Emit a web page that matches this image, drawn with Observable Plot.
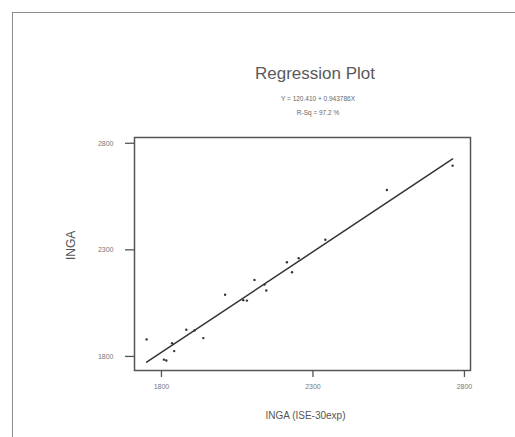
<!DOCTYPE html>
<html><head><meta charset="utf-8">
<script src="https://cdn.jsdelivr.net/npm/d3@7"></script>
<script src="https://cdn.jsdelivr.net/npm/@observablehq/plot@0.6"></script>
<style>
body{margin:0;background:#fff;}
#wrap{position:relative;width:515px;height:437px;overflow:hidden;font-family:"Liberation Sans",Arial,sans-serif;background:#fff;}
#border{position:absolute;left:12px;top:12px;width:600px;height:600px;border-left:1.5px solid #8c8c8c;border-top:1.5px solid #8c8c8c;}
#chart{position:absolute;left:0;top:0;}
.t{position:absolute;white-space:nowrap;transform:translateX(-50%);line-height:1;color:#5a5a5a;}
</style></head><body>
<div id="wrap">
  <div id="border"></div>
  <div id="chart"></div>
  <div class="t" id="title" style="left:315px;top:65px;font-size:17px;">Regression Plot</div>
  <div class="t" id="eq" style="left:318px;top:96px;font-size:6.5px;color:#666;"></div>
  <div class="t" id="rsq" style="left:318px;top:110px;font-size:6.5px;color:#666;"></div>
</div>
<script>
// Data
const inga_ise = [1751,1808,1816,1835,1842,1882,1909,1938,2010,2070,2082,2107,2140,2146,2214,2231,2253,2341,2544,2761];
const inga     = [1880,1785,1781,1862,1825,1925,1922,1886,2089,2064,2062,2159,2137,2109,2242,2195,2261,2347,2581,2695];
const xTicks = [1800, 2300, 2800];
const yTicks = [1800, 2300, 2800];
const intercept = 120.410;
const slope = 0.943786;
const rSq = 97.2;

const pts = inga_ise.map((x, i) => ({x, y: inga[i]}));
const [xmin, xmax] = d3.extent(inga_ise);
const fit = [xmin, xmax].map(x => ({x, y: intercept + slope * x}));

document.getElementById("eq").textContent = `Y = ${intercept.toFixed(3)} + ${slope.toFixed(6)}X`;
document.getElementById("rsq").textContent = `R-Sq = ${rSq.toFixed(1)} %`;

const chart = Plot.plot({
  width: 515,
  height: 437,
  marginLeft: 134,
  marginRight: 45,
  marginTop: 137,
  marginBottom: 67,
  style: {fontFamily: "Liberation Sans, Arial, sans-serif", background: "transparent", color: "#666"},
  x: {domain: [1711, 2820]},
  y: {domain: [1734, 2827]},
  marks: [
    Plot.frame({stroke: "#555", strokeWidth: 1.5}),
    Plot.axisX({ticks: xTicks, tickSize: 7, tickPadding: 7, tickFormat: d => String(d), label: null, stroke: "#555", strokeWidth: 1.3, fontSize: 7, fill: "#777"}),
    Plot.axisY({ticks: yTicks, tickSize: 9, tickPadding: 12, tickFormat: d => String(d), label: null, stroke: "#555", strokeWidth: 1.3, fontSize: 7, fill: "#777"}),
    Plot.text(["INGA (ISE-30exp)"], {frameAnchor: "bottom", dy: 48, fontSize: 10, fill: "#555", dx: 3}),
    Plot.text(["INGA"], {frameAnchor: "left", dx: -63, dy: 6, rotate: -90, fontSize: 12, fill: "#555"}),
    Plot.line(fit, {x: "x", y: "y", stroke: "#333", strokeWidth: 1.5}),
    Plot.dot(pts, {x: "x", y: "y", r: 1.2, fill: "#333", stroke: null})
  ]
});
document.getElementById("chart").appendChild(chart);
</script>
</body></html>
